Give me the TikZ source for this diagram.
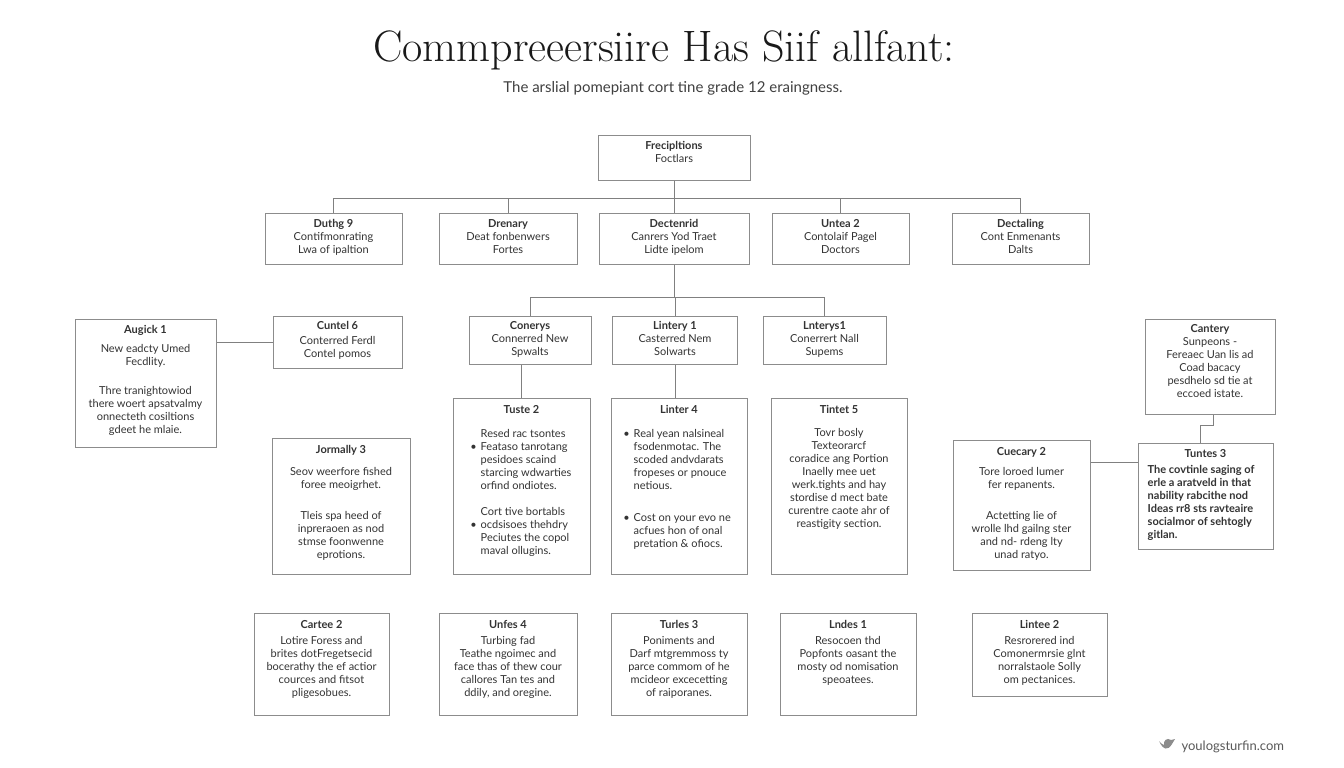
\documentclass[tikz,border=0pt]{standalone}
\usepackage{fontspec}
\newfontfamily\boxfont{Lato}
\usetikzlibrary{positioning, calc}

\begin{document}
\begin{tikzpicture}[x=1pt, y=-1pt,
        box/.style={draw=black!45, line width=1pt, fill=white, inner sep=0pt},
        txt/.style={font=\boxfont\fontsize{11}{13}\selectfont, align=center, inner sep=0pt, text=black!80},
        txtl/.style={txt, align=left},
        link/.style={draw=black!50, line width=1pt}
    ]
        \useasboundingbox[fill=white] (0,0) rectangle (1344,768);

        % Title
        \node[font=\fontsize{44}{50}\selectfont, text=black!90] (title) at (664,50) {Commpreeersiire Has Siif allfant:};
        \node[font=\boxfont\fontsize{15}{17}\selectfont, text=black!75] (subtitle) at (673,88) {The arslial pomepiant cort tine grade 12 eraingness.};

        % Root
        \node[box, minimum width=152pt, minimum height=45pt] (root) at (674,157.5) {};
        \node[txt, below=7pt of root.north] (rootT) {\textbf{Frecipltions}\\Foctlars};

        % First row
        \node[box, minimum width=137pt, minimum height=51pt] (da) at (333.5,238.5) {};
        \node[txt, below=7pt of da.north] (daT) {\textbf{Duthg 9}\\Contifmonrating\\Lwa of ipaltion};
        \node[box, minimum width=138pt, minimum height=51pt] (dr) at (508,238.5) {};
        \node[txt, below=7pt of dr.north] (drT) {\textbf{Drenary}\\Deat fonbenwers\\Fortes};
        \node[box, minimum width=150pt, minimum height=51pt] (dc) at (674,238.5) {};
        \node[txt, below=7pt of dc.north] (dcT) {\textbf{Dectenrid}\\Canrers Yod Traet\\Lidte ipelom};
        \node[box, minimum width=137pt, minimum height=51pt] (ut) at (840.5,238.5) {};
        \node[txt, below=7pt of ut.north] (utT) {\textbf{Untea 2}\\Contolaif Pagel\\Doctors};
        \node[box, minimum width=137pt, minimum height=51pt] (dl) at (1020.5,238.5) {};
        \node[txt, below=7pt of dl.north] (dlT) {\textbf{Dectaling}\\Cont Enmenants\\Dalts};

        % Second row
        \node[box, minimum width=122pt, minimum height=48pt] (cn) at (530,340) {};
        \node[txt, below=6pt of cn.north] (cnT) {\textbf{Conerys}\\Connerred New\\Spwalts};
        \node[box, minimum width=125pt, minimum height=48pt] (ly) at (675,340) {};
        \node[txt, below=6pt of ly.north] (lyT) {\textbf{Lintery 1}\\Casterred Nem\\Solwarts};
        \node[box, minimum width=123pt, minimum height=48pt] (ln) at (824.5,340) {};
        \node[txt, below=6pt of ln.north] (lnT) {\textbf{Lnterys1}\\Conerrert Nall\\Supems};

        % Third row
        \node[box, minimum width=137pt, minimum height=176pt] (ts) at (521.5,486) {};
        \node[txt, below=8pt of ts.north] (tsH) {\textbf{Tuste 2}};
        \node[txtl, anchor=north west] (tsB) at ($(ts.north west)+(28,32)$) {Resed rac tsontes\\
            \llap{\textbullet\hspace{4pt}}Feataso tanrotang\\
            pesidoes scaind\\
            starcing wdwarties\\
            orfind ondiotes.\\[13pt]
            Cort tive bortabls\\
            \llap{\textbullet\hspace{4pt}}ocdsisoes thehdry\\
            Peciutes the copol\\
            maval ollugins.};
        \node[box, minimum width=136pt, minimum height=176pt] (lt) at (679,486) {};
        \node[txt, below=8pt of lt.north] (ltH) {\textbf{Linter 4}};
        \node[txtl, anchor=north west] (ltB) at ($(lt.north west)+(23,32)$) {\llap{\textbullet\hspace{4pt}}Real yean nalsineal\\
            fsodenmotac. The\\
            scoded andvdarats\\
            fropeses or pnouce\\
            netious.\\[19pt]
            \llap{\textbullet\hspace{4pt}}Cost on your evo ne\\
            acfues hon of onal\\
            pretation \& ofiocs.};
        \node[box, minimum width=136pt, minimum height=176pt] (tn) at (839,486) {};
        \node[txt, below=8pt of tn.north] (tnT) {\textbf{Tintet 5}\\[10pt]Tovr bosly\\Texteorarcf\\coradice ang Portion\\Inaelly mee uet\\werk.tights and hay\\stordise d mect bate\\curentre caote ahr of\\reastigity section.};

        % Left side
        \node[box, minimum width=141pt, minimum height=128pt] (au) at (145.5,383) {};
        \node[txt, below=7pt of au.north] (auT) {\textbf{Augick 1}\\[6pt]New eadcty Umed\\Fecdlity.\\[16pt]Thre tranightowiod\\there woert apsatvalmy\\onnecteth cosiltions\\gdeet he mlaie.};
        \node[box, minimum width=129pt, minimum height=52pt] (cu) at (337.5,342) {};
        \node[txt, below=6pt of cu.north] (cuT) {\textbf{Cuntel 6}\\[2pt]Conterred Ferdl\\Contel pomos};
        \node[box, minimum width=138pt, minimum height=136pt] (jo) at (341,506) {};
        \node[txt, below=8pt of jo.north] (joT) {\textbf{Jormally 3}\\[9pt]Seov weerfore fished\\foree meoigrhet.\\[18pt]Tleis spa heed of\\inpreraoen as nod\\stmse foonwenne\\eprotions.};

        % Right side
        \node[box, minimum width=130pt, minimum height=95pt] (ca) at (1210,366.5) {};
        \node[txt, below=6pt of ca.north] (caT) {\textbf{Cantery}\\Sunpeons -\\Fereaec Uan lis ad\\Coad bacacy\\pesdhelo sd tie at\\eccoed istate.};
        \node[box, minimum width=137pt, minimum height=130pt] (cq) at (1021.5,505) {};
        \node[txt, below=8pt of cq.north] (cqT) {\textbf{Cuecary 2}\\[7pt]Tore loroed lumer\\fer repanents.\\[18pt]Actetting lie of\\wrolle lhd gailng ster\\and nd- rdeng lty\\unad ratyo.};
        \node[box, minimum width=135pt, minimum height=106pt] (tu) at (1205.5,496) {};
        \node[txt, below=7pt of tu.north] (tuH) {\textbf{Tuntes 3}};
        \node[txtl, font=\boxfont\bfseries\fontsize{11}{13}\selectfont, anchor=north west] (tuB) at ($(tu.north west)+(10,23)$) {The covtinle saging of\\erle a aratveld in that\\nability rabcithe nod\\Ideas rr8 sts ravteaire\\socialmor of sehtogly\\gitlan.};

        % Bottom row
        \node[box, minimum width=135pt, minimum height=102pt] (ce) at (321.5,664) {};
        \node[txt, below=8pt of ce.north] (ceT) {\textbf{Cartee 2}\\[3pt]Lotire Foress and\\brites dotFregetsecid\\bocerathy the ef actior\\cources and fitsot\\pligesobues.};
        \node[box, minimum width=138pt, minimum height=102pt] (un) at (508,664) {};
        \node[txt, below=8pt of un.north] (unT) {\textbf{Unfes 4}\\[3pt]Turbing fad\\Teathe ngoimec and\\face thas of thew cour\\callores Tan tes and\\ddily, and oregine.};
        \node[box, minimum width=136pt, minimum height=102pt] (tr) at (679,664) {};
        \node[txt, below=8pt of tr.north] (trT) {\textbf{Turles 3}\\[3pt]Poniments and\\Darf mtgremmoss ty\\parce commom of he\\mcideor excecetting\\of raiporanes.};
        \node[box, minimum width=136pt, minimum height=102pt] (ld) at (848,664) {};
        \node[txt, below=8pt of ld.north] (ldT) {\textbf{Lndes 1}\\[3pt]Resocoen thd\\Popfonts oasant the\\mosty od nomisation\\speoatees.};
        \node[box, minimum width=135pt, minimum height=83pt] (li) at (1039.5,654.5) {};
        \node[txt, below=8pt of li.north] (liT) {\textbf{Lintee 2}\\[3pt]Resrorered ind\\Comonermrsie glnt\\norralstaole Solly\\om pectanices.};

        % Connectors
        \coordinate (bus1) at (674,198);
        \draw[link] (root.south) -- (bus1);
        \foreach \n in {da,dr,dc,ut,dl} \draw[link] (\n.north) |- (bus1);
        \coordinate (bus2) at (674,297);
        \draw[link] (dc.south) -- (bus2);
        \foreach \n in {cn,ly,ln} \draw[link] (\n.north) |- (bus2);
        \draw[link] (ts.north) -- (ts.north |- cn.south);
        \draw[link] (ly.south) -- (ly.south |- lt.north);
        \draw[link] (cu.west) -- (cu.west -| au.east);
        \coordinate (tuIn) at ($(tu.north west)+(0,20)$);
        \draw[link] (tuIn) -- (tuIn -| cq.east);
        \draw[link] ([xshift=3pt]ca.south) -- ++(0,11) -| ([xshift=-5pt]tu.north);

        % Watermark
        \fill[black!45] (1159,741) .. controls (1163,750) and (1168,751) .. (1172,744) -- (1175,739) -- (1171,740) .. controls (1167,737) and (1163,741) .. (1164,745) .. controls (1162,744) and (1160,743) .. cycle;
        \node[font=\boxfont\fontsize{13}{15}\selectfont, text=black!65, anchor=west] (mark) at (1178,747) {youlogsturfin.com};

    \end{tikzpicture}
\end{document}
